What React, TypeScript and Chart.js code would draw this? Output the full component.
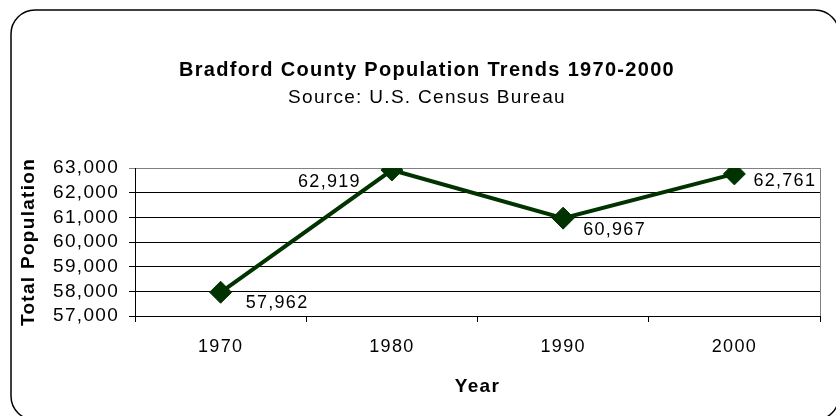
import { useEffect, useRef } from 'react';
import { Chart, registerables } from 'chart.js';

Chart.register(...registerables);

// ---- data ----
const years = ['1970', '1980', '1990', '2000'];
const population = [57962, 62919, 60967, 62761];
const yTicks = [57000, 58000, 59000, 60000, 61000, 62000, 63000];
const chartTitle = 'Bradford County Population Trends 1970-2000';
const chartSubtitle = 'Source: U.S. Census Bureau';
const xTitle = 'Year';
const yTitle = 'Total Population';

// ---- label placement style (relative to each drawn point) ----
const labelAlign: CanvasTextAlign[] = ['left', 'right', 'left', 'left'];
const labelDx = [25, -31, 20, 19];
const labelDy = [11, 12, 12, 7];

const FAMILY = "'Liberation Sans', Arial, sans-serif";
const LINE_COLOR = '#003300';
const SPACING = '1.3px';

const framePlugin = {
  id: 'spacingAndFrame',
  beforeUpdate(chart: any) {
    chart.ctx.letterSpacing = SPACING;
  },
  beforeLayout(chart: any) {
    chart.ctx.letterSpacing = SPACING;
  },
  beforeDraw(chart: any) {
    const ctx = chart.ctx;
    ctx.letterSpacing = SPACING;
    ctx.save();
    ctx.beginPath();
    ctx.lineWidth = 1.5;
    ctx.strokeStyle = '#000';
    if (ctx.roundRect) {
      ctx.roundRect(11, 10, 828, 410, 24);
    } else {
      ctx.rect(11, 10, 828, 410);
    }
    ctx.stroke();
    // chart heading
    ctx.fillStyle = '#000';
    ctx.textAlign = 'center';
    ctx.textBaseline = 'middle';
    ctx.font = `bold 20px ${FAMILY}`;
    ctx.fillText(chartTitle, 427, 70);
    ctx.font = `19px ${FAMILY}`;
    ctx.fillText(chartSubtitle, 427, 98);
    ctx.restore();
  },
  beforeDatasetsDraw(chart: any) {
    const { ctx, chartArea } = chart;
    ctx.save();
    ctx.beginPath();
    ctx.lineWidth = 1;
    ctx.strokeStyle = '#808080';
    ctx.moveTo(Math.round(chartArea.right) + 0.5, chartArea.top);
    ctx.lineTo(Math.round(chartArea.right) + 0.5, chartArea.bottom);
    ctx.stroke();
    ctx.restore();
  },
};

const pointLabelsPlugin = {
  id: 'pointLabels',
  afterDatasetsDraw(chart: any) {
    const ctx = chart.ctx;
    const meta = chart.getDatasetMeta(0);
    ctx.save();
    ctx.letterSpacing = SPACING;
    ctx.font = `18px ${FAMILY}`;
    ctx.fillStyle = '#000';
    ctx.textBaseline = 'middle';
    meta.data.forEach((pt: any, i: number) => {
      ctx.textAlign = labelAlign[i];
      ctx.fillText(population[i].toLocaleString('en-US'), pt.x + labelDx[i], pt.y + labelDy[i]);
    });
    ctx.restore();
  },
};

export default function App() {
  const canvasRef = useRef<HTMLCanvasElement | null>(null);

  useEffect(() => {
    if (!canvasRef.current) return;
    Chart.defaults.font.family = FAMILY;
    Chart.defaults.color = '#000';
    const yMax = yTicks[yTicks.length - 1];
    const chart = new Chart(canvasRef.current, {
      type: 'line',
      data: {
        labels: years,
        datasets: [
          {
            data: population,
            borderColor: LINE_COLOR,
            borderWidth: 4,
            backgroundColor: LINE_COLOR,
            pointStyle: 'rectRot',
            pointRadius: 11,
            pointBorderWidth: 1,
            pointBackgroundColor: LINE_COLOR,
            pointBorderColor: LINE_COLOR,
            tension: 0,
            fill: false,
          },
        ],
      },
      options: {
        animation: false,
        responsive: true,
        maintainAspectRatio: false,
        layout: { padding: { left: 0, right: 16, top: 168, bottom: 0 } },
        plugins: {
          legend: { display: false },
          tooltip: { enabled: false },
          title: { display: false },
          subtitle: { display: false },
        },
        scales: {
          x: {
            type: 'category',
            offset: true,
            grid: {
              display: true,
              drawOnChartArea: false,
              drawTicks: true,
              tickLength: 6,
              color: '#000',
              offset: true,
            },
            border: { display: true, color: '#000', width: 1 },
            ticks: {
              color: '#000',
              font: { family: FAMILY, size: 18 },
              padding: 14,
              maxRotation: 0,
              autoSkip: false,
            },
            title: {
              display: true,
              text: xTitle,
              color: '#000',
              font: { family: FAMILY, size: 19, weight: 'bold', lineHeight: 1.2 },
              padding: { top: 0, bottom: 18 },
            },
            afterFit: (s: any) => {
              s.height = 100;
            },
          },
          y: {
            min: yTicks[0],
            max: yMax,
            afterBuildTicks: (s: any) => {
              s.ticks = yTicks.map((v) => ({ value: v }));
            },
            grid: {
              color: (c: any) => (c.tick && c.tick.value === yMax ? '#808080' : '#000'),
              tickLength: 6,
              drawTicks: true,
            },
            border: { display: true, color: '#000', width: 1 },
            ticks: {
              color: '#000',
              font: { family: FAMILY, size: 19 },
              padding: 10,
              autoSkip: false,
              callback: (v: any) => Number(v).toLocaleString('en-US'),
            },
            title: {
              display: true,
              text: yTitle,
              color: '#000',
              font: { family: FAMILY, size: 19, weight: 'bold', lineHeight: 1.2 },
              padding: { top: 17, bottom: 0 },
            },
            afterFit: (s: any) => {
              s.width = 135;
            },
          },
        },
      } as any,
      plugins: [framePlugin, pointLabelsPlugin],
    });
    return () => chart.destroy();
  }, []);

  return (
    <div style={{ position: 'fixed', left: 0, top: 0, width: '836px', height: '416px', background: '#fff' }}>
      <canvas ref={canvasRef} />
    </div>
  );
}
